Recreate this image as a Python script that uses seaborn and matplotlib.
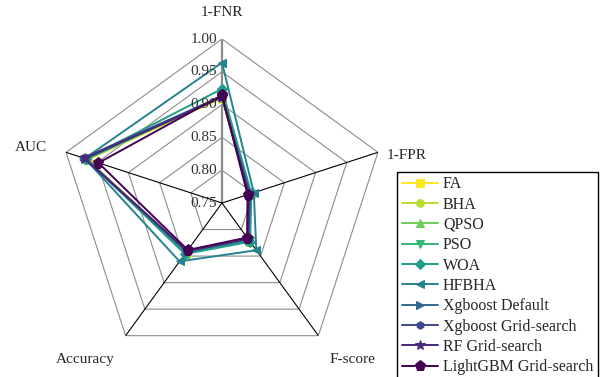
import numpy as np
import pandas as pd
import matplotlib
matplotlib.use("Agg")
import matplotlib.pyplot as plt
import matplotlib.transforms as mtransforms
import seaborn as sns

# -------------------- DATA --------------------
metrics = ["1-FNR", "1-FPR", "F-score", "Accuracy", "AUC"]
models = ["FA", "BHA", "QPSO", "PSO", "WOA", "HFBHA", "Xgboost Default",
          "Xgboost Grid-search", "RF Grid-search", "LightGBM Grid-search"]
fa = [0.910, 0.794, 0.818, 0.842, 0.965]
bha = [0.911, 0.795, 0.820, 0.843, 0.966]
qpso = [0.912, 0.796, 0.821, 0.844, 0.966]
pso = [0.913, 0.796, 0.822, 0.845, 0.967]
woa = [0.924, 0.797, 0.823, 0.846, 0.968]
hfbha = [0.964, 0.801, 0.839, 0.860, 0.970]
xgb_default = [0.912, 0.795, 0.819, 0.842, 0.969]
xgb_grid = [0.913, 0.794, 0.818, 0.841, 0.972]
rf_grid = [0.911, 0.793, 0.817, 0.840, 0.970]
lgbm_grid = [0.9145, 0.791, 0.815, 0.8386, 0.948]
r_ticks = [0.75, 0.80, 0.85, 0.90, 0.95, 1.00]
# ----------------------------------------------

values = [fa, bha, qpso, pso, woa, hfbha, xgb_default, xgb_grid, rf_grid, lgbm_grid]
marker_list = ["s", "o", "^", "v", "D", "<", ">", "h", "*", "p"]
colors = plt.cm.viridis(np.linspace(1, 0, len(models)))

sns.set_theme(style="white")
plt.rcParams["font.family"] = ["Liberation Serif", "DejaVu Serif"]

angles = np.linspace(0, 2 * np.pi, len(metrics), endpoint=False)
angles_closed = np.append(angles, 2 * np.pi)

fig = plt.figure(figsize=(6.02, 3.77), dpi=100)
ax = fig.add_axes([0.0963, 0.0265, 0.5449, 0.870], projection="polar")
ax.set_theta_offset(np.pi / 2)
ax.set_theta_direction(-1)

# pentagon grid + spokes
for r in r_ticks[1:]:
    ax.plot(angles_closed, [r] * len(angles_closed), color="#8c8c8c", lw=0.8, zorder=0)
for i, a in enumerate(angles):
    ax.plot([a, a], [r_ticks[0], r_ticks[-1]],
            color="#8c8c8c" if i == 0 else "black",
            lw=1.6 if i == 0 else 0.8, zorder=0.5)

for name, vals, mk, c in zip(models, values, marker_list, colors):
    df = pd.DataFrame({"theta": angles_closed, "r": vals + vals[:1]})
    ms = 8 if mk == "p" else (7 if mk == "*" else 5.5)
    sns.lineplot(data=df, x="theta", y="r", ax=ax, sort=False, estimator=None,
                 color=c, marker=mk, markersize=ms, markeredgecolor=c,
                 linewidth=1.4, label=name)

ax.set_ylim(r_ticks[0], r_ticks[-1])
ax.grid(False)
ax.set_xticks([])
ax.set_yticks([])
ax.spines["polar"].set_visible(False)
ax.set_xlabel("")
ax.set_ylabel("")

# radial tick labels
off = mtransforms.offset_copy(ax.transData, fig=fig, x=-5, y=0, units="dots")
for r in r_ticks:
    ax.text(0, r, f"{r:.2f}", transform=off, ha="right", va="center",
            fontsize=11, color="#333333")

# category labels
label_pos = [(0, 1.041), (75.5, 1.041), (140.2, 1.061), (221.1, 1.067), (286.1, 1.053)]
for name, (th, r) in zip(metrics, label_pos):
    ax.text(np.deg2rad(th), r, name, ha="center", va="center", fontsize=11,
            clip_on=False)

handles, labels = ax.get_legend_handles_labels()
ax.get_legend().remove()
leg = fig.legend(handles, labels, loc="upper left", bbox_to_anchor=(0.659, 0.545),
                 fontsize=11.5, frameon=True, fancybox=False, framealpha=1,
                 edgecolor="black", handlelength=2.3, handletextpad=0.3,
                 labelspacing=0.27, borderpad=0.3, borderaxespad=0)
leg.get_frame().set_linewidth(1.0)

fig.savefig("out.png", dpi=100)
